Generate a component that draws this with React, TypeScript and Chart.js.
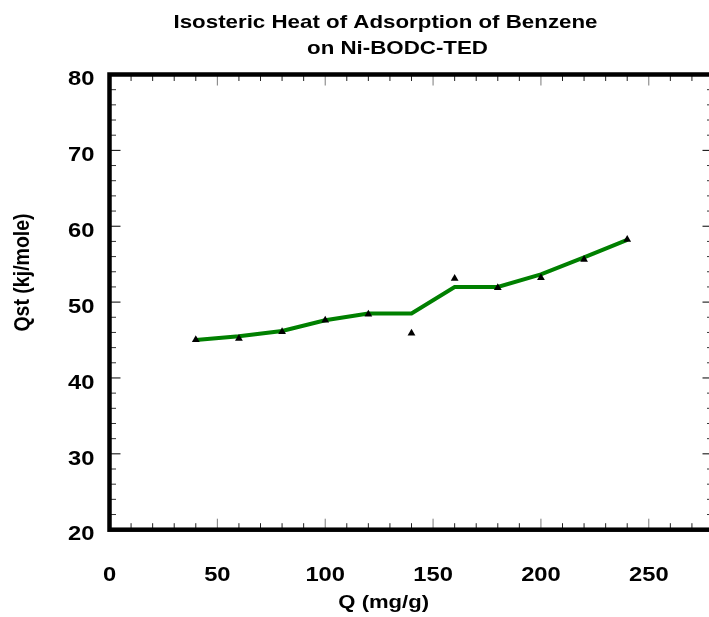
import React, { useEffect, useRef } from "react";
import { Chart, registerables } from "chart.js";

Chart.register(...registerables);

// Benzene loading Q (mg/g)
const loading = [40, 60, 80, 100, 120, 140, 160, 180, 200, 220, 240];
// Measured isosteric heat (kJ/mole), triangles
const qstMeasured = [45.05, 45.2, 46.1, 47.6, 48.4, 45.9, 53.1, 51.9, 53.2, 55.6, 58.25];
// Smoothed curve (kJ/mole), green line
const qstCurve = [45.0, 45.5, 46.2, 47.6, 48.5, 48.5, 52.0, 52.0, 53.65, 55.9, 58.2];

const xTickLabels = [0, 50, 100, 150, 200, 250];
const yTickLabels = [20, 30, 40, 50, 60, 70, 80];

const titleLines = ["Isosteric Heat of Adsorption of Benzene", "on Ni-BODC-TED"];
const xAxisTitle = "Q (mg/g)";
const yAxisTitle = "Qst (kj/mole)";

const FONT = '"Liberation Sans", Arial, Helvetica, sans-serif';

type TextOpts = {
  size: number;
  align?: CanvasTextAlign;
  baseline?: CanvasTextBaseline;
  sx?: number;
  rotate?: number;
};

function drawText(ctx: CanvasRenderingContext2D, text: string, x: number, y: number, o: TextOpts) {
  ctx.save();
  ctx.translate(x, y);
  ctx.scale(o.sx ?? 1, 1);
  if (o.rotate) ctx.rotate(o.rotate);
  ctx.font = `bold ${o.size}px ${FONT}`;
  ctx.textAlign = o.align ?? "center";
  ctx.textBaseline = o.baseline ?? "alphabetic";
  ctx.fillStyle = "#000";
  ctx.fillText(text, 0, 0);
  ctx.restore();
}

// Boxed frame with inward ticks on all four sides, tick labels and titles
const framePlugin = {
  id: "boxFrame",
  afterDraw(chart: any) {
    const ctx: CanvasRenderingContext2D = chart.ctx;
    const { left, right, top, bottom } = chart.chartArea;
    const xs = chart.scales.x;
    const ys = chart.scales.y;

    ctx.save();
    ctx.lineWidth = 1;
    // x ticks (minor every 10, major every 50)
    for (let v = xs.min + 10; v < xs.max; v += 10) {
      const px = xs.getPixelForValue(v);
      const major = v % 50 === 0;
      const len = major ? 11 : 6.5;
      ctx.strokeStyle = major ? "#7a7a7a" : "#222";
      ctx.beginPath();
      ctx.moveTo(px, bottom);
      ctx.lineTo(px, bottom - len);
      ctx.moveTo(px, top);
      ctx.lineTo(px, top + len);
      ctx.stroke();
    }
    // y ticks (minor every 2, major every 10)
    for (let v = ys.min + 2; v < ys.max; v += 2) {
      const py = ys.getPixelForValue(v);
      const major = v % 10 === 0;
      const len = major ? 11 : 6.5;
      ctx.strokeStyle = major ? "#000" : "#333";
      ctx.beginPath();
      ctx.moveTo(left, py);
      ctx.lineTo(left + len, py);
      ctx.moveTo(right, py);
      ctx.lineTo(right - len, py);
      ctx.stroke();
    }
    // frame
    ctx.strokeStyle = "#000";
    ctx.lineWidth = 4.5;
    ctx.strokeRect(left, top, right - left, bottom - top);
    ctx.restore();

    // tick labels
    xTickLabels.forEach((v) => {
      drawText(ctx, String(v), xs.getPixelForValue(v), bottom + 51.5, { size: 20.3, sx: 1.17 });
    });
    yTickLabels.forEach((v) => {
      drawText(ctx, String(v), left - 15, ys.getPixelForValue(v) + 10.7, {
        size: 20.3,
        sx: 1.17,
        align: "right",
      });
    });

    // titles
    drawText(ctx, titleLines[0], 385.5, 28.3, { size: 18.6, sx: 1.2 });
    drawText(ctx, titleLines[1], 397.5, 54.3, { size: 18.6, sx: 1.2 });
    drawText(ctx, xAxisTitle, 383.7, 608, { size: 18.4, sx: 1.2 });
    drawText(ctx, yAxisTitle, 23, 272.5, {
      size: 19.5,
      sx: 1.1,
      rotate: -Math.PI / 2,
      baseline: "middle",
    });
  },
};

export default function App() {
  const canvasRef = useRef<HTMLCanvasElement | null>(null);

  useEffect(() => {
    const canvas = canvasRef.current;
    if (!canvas) return;
    const chart = new Chart(canvas, {
      type: "line",
      data: {
        datasets: [
          {
            label: "Measured",
            data: loading.map((q, i) => ({ x: q, y: qstMeasured[i] })),
            showLine: false,
            pointStyle: "triangle",
            pointRadius: 4.5,
            pointBackgroundColor: "#000",
            pointBorderColor: "#000",
            pointBorderWidth: 0,
          },
          {
            label: "Curve",
            data: loading.map((q, i) => ({ x: q, y: qstCurve[i] })),
            borderColor: "#008000",
            borderWidth: 4,
            pointRadius: 0,
            tension: 0,
            fill: false,
          },
        ],
      },
      options: {
        responsive: false,
        animation: false,
        devicePixelRatio: 1,
        layout: { padding: { left: 0, right: 10.5, top: 74.5, bottom: 0 } },
        plugins: {
          legend: { display: false },
          tooltip: { enabled: false },
          title: { display: false },
        },
        scales: {
          x: {
            type: "linear",
            min: 0,
            max: 280,
            grid: { display: false },
            border: { display: false },
            ticks: { display: false },
            afterFit: (s: any) => {
              s.height = 87.3;
            },
          },
          y: {
            type: "linear",
            min: 20,
            max: 80,
            grid: { display: false },
            border: { display: false },
            ticks: { display: false },
            afterFit: (s: any) => {
              s.width = 109.5;
            },
          },
        },
      },
      plugins: [framePlugin],
    });
    return () => chart.destroy();
  }, []);

  return (
    <div
      style={{
        position: "fixed",
        left: 0,
        top: 0,
        width: 709,
        height: 617,
        overflow: "hidden",
        background: "#fff",
      }}
    >
      <canvas ref={canvasRef} width={724} height={617} style={{ display: "block" }} />
    </div>
  );
}
